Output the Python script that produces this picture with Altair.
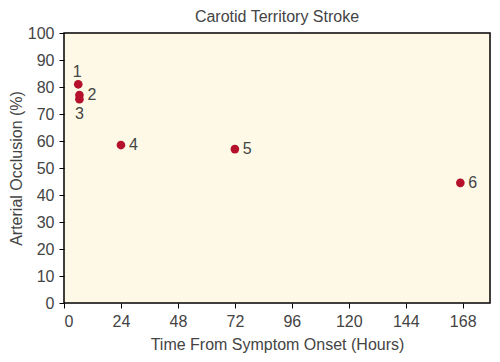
import altair as alt
import pandas as pd

hours = [6, 6.5, 6.5, 24, 72, 167]
occlusion = [81, 77, 75.5, 58.5, 57, 44.5]
labels = ["1", "2", "3", "4", "5", "6"]
label_pos = ["above", "right", "below", "right", "right", "right"]

df = pd.DataFrame({"h": hours, "o": occlusion, "lab": labels, "pos": label_pos})

FONT = "Liberation Sans"
GREY = "#444444"
FS = 16
TFS = 16

x = alt.X("h:Q", scale=alt.Scale(domain=[0, 179.5], nice=False, zero=True),
          axis=alt.Axis(values=[0, 24, 48, 72, 96, 120, 144, 168], title="Time From Symptom Onset (Hours)",
                        grid=False, domain=False, tickColor="black", tickSize=5, labelOverlap=False,
                        labelFont=FONT, labelFontSize=FS, labelColor=GREY, labelPadding=5,
                        titleFont=FONT, titleFontSize=TFS, titleColor=GREY, titleFontWeight="normal",
                        titlePadding=7))
y = alt.Y("o:Q", scale=alt.Scale(domain=[0, 100], nice=False),
          axis=alt.Axis(values=list(range(0, 101, 10)), title="Arterial Occlusion (%)",
                        grid=False, domain=False, tickColor="black", tickSize=5, labelOverlap=False,
                        labelFont=FONT, labelFontSize=FS, labelColor=GREY, labelPadding=5,
                        titleFont=FONT, titleFontSize=TFS, titleColor=GREY, titleFontWeight="normal",
                        titlePadding=3))

base = alt.Chart(df).encode(x=x, y=y)
pts = base.mark_circle(size=75, color="#B5102C", opacity=1)

txt_style = dict(font=FONT, fontSize=FS, color=GREY)
right = base.transform_filter(alt.datum.pos == "right").mark_text(align="left", baseline="middle", dx=8, **txt_style).encode(text="lab:N")
above = base.transform_filter(alt.datum.pos == "above").mark_text(align="center", baseline="middle", dy=-12, dx=-1, **txt_style).encode(text="lab:N")
below = base.transform_filter(alt.datum.pos == "below").mark_text(align="center", baseline="middle", dy=15, **txt_style).encode(text="lab:N")

chart = alt.layer(pts, right, above, below).properties(
    width=426, height=270,
    title=alt.TitleParams("Carotid Territory Stroke", font=FONT, fontSize=TFS, color=GREY,
                          fontWeight="normal", offset=0),
    autosize=alt.AutoSizeParams(type="none"),
    padding={"left": 56, "top": 25, "right": 2, "bottom": 50},
).configure_view(fill="#FDF9E6", stroke="black", strokeWidth=1.5)

chart.save("out.html", embed_options={"renderer": "svg", "actions": False})
